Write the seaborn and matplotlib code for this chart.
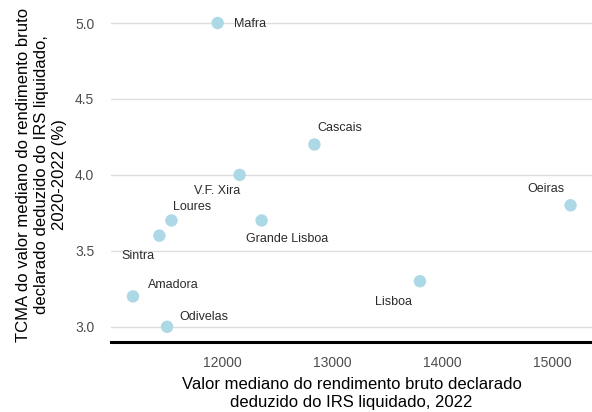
import matplotlib
matplotlib.use('Agg')
import matplotlib.pyplot as plt
import seaborn as sns
import pandas as pd

# ================================================
# Data
# ================================================
municipios = ['Mafra', 'Cascais', 'V.F. Xira', 'Oeiras', 'Loures',
              'Grande Lisboa', 'Sintra', 'Amadora', 'Lisboa', 'Odivelas']
rendimento = [11960, 12840, 12160, 15170, 11540,
              12360, 11430, 11190, 13800, 11500]
tcma = [5.0, 4.2, 4.0, 3.8, 3.7, 3.7, 3.6, 3.2, 3.3, 3.0]
# label offsets (pixels) relative to each point
dx = [32, 25, -23, -25, 21, 26, -21, 40, -26, 37]
dy = [-1, 17, -16, 16, 13, -19, -20, 11, -21, 10]

df = pd.DataFrame({'municipio': municipios, 'rendimento': rendimento, 'tcma': tcma})

# ================================================
# Setup
# ================================================
sns.set_theme(style='white')
plt.rcParams['font.family'] = ['Liberation Sans', 'DejaVu Sans']

fig = plt.figure(figsize=(5.92, 4.12), dpi=100)
ax = fig.add_axes([0.1875, 0.170, 0.8125, 0.811])

sns.scatterplot(
    data=df,
    x='rendimento',
    y='tcma',
    color='#add8e6',
    s=80,
    edgecolor='none',
    ax=ax,
    zorder=3
)

for i, row in df.iterrows():
    ax.annotate(row['municipio'], (row['rendimento'], row['tcma']),
                xytext=(dx[i], dy[i]), textcoords='offset pixels',
                ha='center', va='center', fontsize=9, color='#2b2b2b')

ax.set_xticks([12000, 13000, 14000, 15000])
ax.set_yticks([3.0, 3.5, 4.0, 4.5, 5.0])
ax.set_yticklabels(['3.0', '3.5', '4.0', '4.5', '5.0'])
ax.set_ylim(2.9, 5.1)
ax.set_xlim(10990, 15365)

ax.yaxis.grid(True, color='#dedede', linewidth=1)
ax.xaxis.grid(False)
for side in ['top', 'right', 'left']:
    ax.spines[side].set_visible(False)
ax.spines['bottom'].set_color('black')
ax.spines['bottom'].set_linewidth(2.2)

ax.tick_params(axis='both', length=0, labelsize=10, labelcolor='#4d4d4d')
ax.tick_params(axis='y', pad=12)
ax.tick_params(axis='x', pad=10)

ax.set_xlabel('Valor mediano do rendimento bruto declarado\ndeduzido do IRS liquidado, 2022',
              fontsize=12, color='black', labelpad=5, linespacing=1.25)
ax.set_ylabel('TCMA do valor mediano do rendimento bruto\ndeclarado deduzido do IRS liquidado,\n2020-2022 (%)',
              fontsize=12, color='black', labelpad=6, linespacing=1.25)

plt.savefig('out.png', dpi=100)
